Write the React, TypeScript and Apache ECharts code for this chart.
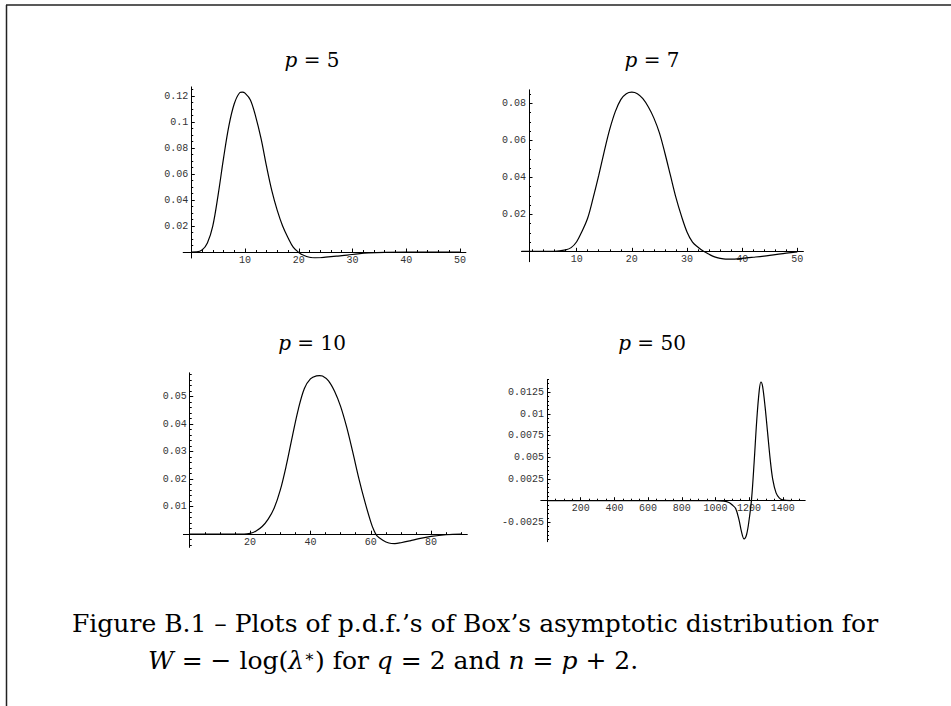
import React, { useEffect, useRef } from "react";
import * as echarts from "echarts";

// ---- Data (x values and pdf values) ----
const p5X = [0, 1, 2, 3, 4, 5, 6, 7, 8, 9, 9.5, 10, 11, 12, 13, 14, 15, 16, 17, 18, 19, 20, 21, 22, 23, 24, 25, 27, 29, 31, 33, 36, 40, 45, 50];
const p5Y = [0, 0.0001, 0.0015, 0.007, 0.02, 0.044, 0.072, 0.097, 0.114, 0.1225, 0.123, 0.1222, 0.117, 0.104, 0.087, 0.066, 0.047, 0.032, 0.02, 0.011, 0.0035, -0.0003, -0.0027, -0.004, -0.0045, -0.0044, -0.004, -0.0032, -0.0024, -0.0014, -0.0007, -0.0002, 0, 0, 0];

const p7X = [0, 6, 8, 9, 10, 11, 12, 13, 14, 15, 16, 17, 18, 19, 20, 21, 22, 23, 24, 25, 26, 27, 28, 29, 30, 31, 32, 33, 34, 35, 36, 37, 38, 40, 42, 45, 48, 50];
const p7Y = [0, 0, 0.0008, 0.002, 0.0052, 0.011, 0.018, 0.029, 0.041, 0.054, 0.066, 0.0755, 0.082, 0.0852, 0.086, 0.0852, 0.0825, 0.078, 0.072, 0.064, 0.053, 0.041, 0.029, 0.019, 0.0105, 0.005, 0.0022, 0, -0.0016, -0.003, -0.0038, -0.0042, -0.0042, -0.0038, -0.0032, -0.0022, -0.001, -0.0003];

const p10X = [0, 18, 20, 22, 24, 26, 28, 30, 32, 34, 36, 38, 40, 42, 43, 44, 46, 48, 50, 52, 54, 56, 58, 60, 61, 62, 64, 66, 68, 70, 73, 76, 80, 85, 90];
const p10Y = [0, 0, 0.0003, 0.0012, 0.0028, 0.0055, 0.0095, 0.016, 0.025, 0.0355, 0.0455, 0.053, 0.0565, 0.0576, 0.0577, 0.0575, 0.0558, 0.052, 0.0465, 0.039, 0.03, 0.0205, 0.012, 0.0045, 0.0015, -0.0005, -0.0022, -0.0032, -0.0034, -0.0031, -0.0024, -0.0016, -0.0008, -0.0002, 0];

const p50X = [0, 1000, 1050, 1080, 1100, 1120, 1140, 1155, 1170, 1185, 1200, 1215, 1230, 1245, 1260, 1270, 1280, 1295, 1310, 1325, 1340, 1360, 1380, 1400, 1450];
const p50Y = [0, 0, -0.00005, -0.0002, -0.0005, -0.0009, -0.0022, -0.0036, -0.0044, -0.0039, -0.0022, 0.0003, 0.0045, 0.0092, 0.0127, 0.0137, 0.0132, 0.0108, 0.0078, 0.0048, 0.0025, 0.0009, 0.0003, 0.0001, 0];

// ---- Tick labels ----
const p5XTicks = [10, 20, 30, 40, 50];
const p5YTicks = [0.02, 0.04, 0.06, 0.08, 0.1, 0.12];
const p7XTicks = [10, 20, 30, 40, 50];
const p7YTicks = [0.02, 0.04, 0.06, 0.08];
const p10XTicks = [20, 40, 60, 80];
const p10YTicks = [0.01, 0.02, 0.03, 0.04, 0.05];
const p50XTicks = [200, 400, 600, 800, 1000, 1200, 1400];
const p50YTicks = [-0.0025, 0.0025, 0.005, 0.0075, 0.01, 0.0125];

const titles = ["5", "7", "10", "50"];

function steps(from: number, to: number, step: number): number[] {
  const out: number[] = [];
  for (let i = 0; ; i++) {
    const v = from + i * step;
    if (v > to + step * 1e-6) break;
    out.push(+v.toFixed(6));
  }
  return out;
}

function zip(xs: number[], ys: number[]) {
  return xs.map((x, i) => [x, ys[i]]);
}

type Panel = {
  title: string;
  data: number[][];
  xRange: [number, number];
  yRange: [number, number];
  yCross: number;
  xLabels: number[];
  xMinor: number[];
  yLabels: number[];
  yMinor: number[];
  box: { left: number; top: number; width: number; height: number };
  titlePos: [number, number];
};

const panels: Panel[] = [
  {
    title: titles[0],
    data: zip(p5X, p5Y),
    xRange: [-1.5, 51.1],
    yRange: [-0.0046, 0.127],
    yCross: 0,
    xLabels: p5XTicks,
    xMinor: steps(0, 50, 2),
    yLabels: p5YTicks,
    yMinor: steps(0, 0.125, 0.005),
    box: { left: 183.2, top: 86.9, width: 282.7, height: 171.1 },
    titlePos: [312, 60],
  },
  {
    title: titles[1],
    data: zip(p7X, p7Y),
    xRange: [0, 51.1],
    yRange: [-0.0056, 0.0873],
    yCross: 1.36,
    xLabels: p7XTicks,
    xMinor: steps(2, 50, 2),
    yLabels: p7YTicks,
    yMinor: steps(0, 0.085, 0.005),
    box: { left: 521.5, top: 89.8, width: 281.9, height: 171.9 },
    titlePos: [652, 60],
  },
  {
    title: titles[2],
    data: zip(p10X, p10Y),
    xRange: [-2.1, 92],
    yRange: [-0.0048, 0.0587],
    yCross: 0,
    xLabels: p10XTicks,
    xMinor: steps(0, 90, 5),
    yLabels: p10YTicks,
    yMinor: steps(-0.004, 0.058, 0.002),
    box: { left: 183.4, top: 372.8, width: 283.9, height: 174.6 },
    titlePos: [312, 343],
  },
  {
    title: titles[3],
    data: zip(p50X, p50Y),
    xRange: [-37, 1533],
    yRange: [-0.00473, 0.014],
    yCross: 0,
    xLabels: p50XTicks,
    xMinor: steps(0, 1500, 50),
    yLabels: p50YTicks,
    yMinor: steps(-0.0045, 0.014, 0.0005),
    box: { left: 540.8, top: 379.4, width: 264.4, height: 162.3 },
    titlePos: [652, 343],
  },
];

const fmt = (v: any) => String(parseFloat(Number(v).toPrecision(6)));
const tickFont = "'Liberation Mono', 'DejaVu Sans Mono', monospace";
const serif = "'DejaVu Serif', 'Liberation Serif', serif";

function buildOption() {
  const grid: any[] = [];
  const xAxis: any[] = [];
  const yAxis: any[] = [];
  const series: any[] = [];
  const graphic: any[] = [];

  panels.forEach((p, i) => {
    grid.push({ ...p.box, containLabel: false });
    const xOff = -p.box.height * (0 - p.yRange[0]) / (p.yRange[1] - p.yRange[0]);
    const yOff = -p.box.width * (p.yCross - p.xRange[0]) / (p.xRange[1] - p.xRange[0]);
    const base = { type: "value", gridIndex: i, splitLine: { show: false } };
    xAxis.push({
      ...base,
      min: p.xRange[0],
      max: p.xRange[1],
      position: "bottom",
      offset: xOff,
      axisLine: { show: true, onZero: false, lineStyle: { color: "#000", width: 1 } },
      axisTick: { show: true, inside: true, length: 3.5, customValues: p.xLabels, lineStyle: { color: "#000", width: 1 } },
      axisLabel: { show: true, customValues: p.xLabels, formatter: fmt, margin: 3, fontFamily: tickFont, fontSize: 10, color: "#333" },
    });
    xAxis.push({
      ...base,
      min: p.xRange[0],
      max: p.xRange[1],
      position: "bottom",
      offset: xOff,
      axisLine: { show: false, onZero: false },
      axisTick: { show: true, inside: true, length: 2, customValues: p.xMinor, lineStyle: { color: "#000", width: 1 } },
      axisLabel: { show: false },
    });
    yAxis.push({
      ...base,
      min: p.yRange[0],
      max: p.yRange[1],
      position: "left",
      offset: yOff,
      axisLine: { show: true, onZero: false, lineStyle: { color: "#000", width: 1 } },
      axisTick: { show: true, inside: true, length: 3.5, customValues: p.yLabels, lineStyle: { color: "#000", width: 1 } },
      axisLabel: { show: true, customValues: p.yLabels, formatter: fmt, margin: 3, fontFamily: tickFont, fontSize: 10, color: "#333" },
    });
    yAxis.push({
      ...base,
      min: p.yRange[0],
      max: p.yRange[1],
      position: "left",
      offset: yOff,
      axisLine: { show: false, onZero: false },
      axisTick: { show: true, inside: true, length: 2, customValues: p.yMinor, lineStyle: { color: "#000", width: 1 } },
      axisLabel: { show: false },
    });
    series.push({
      type: "line",
      xAxisIndex: 2 * i,
      yAxisIndex: 2 * i,
      data: p.data,
      showSymbol: false,
      symbol: "none",
      smooth: 0.35,
      lineStyle: { color: "#000", width: 1.2 },
      silent: true,
    });
    graphic.push({
      type: "text",
      x: p.titlePos[0],
      y: p.titlePos[1],
      style: {
        text: "{i|p} = " + p.title,
        rich: { i: { fontStyle: "italic", fontFamily: serif, fontSize: 20, fill: "#000" } },
        fontFamily: serif,
        fontSize: 20,
        fill: "#000",
        align: "center",
        verticalAlign: "middle",
      },
    });
  });

  // page frame
  graphic.push({ type: "line", shape: { x1: 6, y1: 5, x2: 951, y2: 5 }, style: { stroke: "#222", lineWidth: 1.5 } });
  graphic.push({ type: "line", shape: { x1: 6.5, y1: 5, x2: 6.5, y2: 706 }, style: { stroke: "#222", lineWidth: 1.5 } });

  // caption
  graphic.push({
    type: "text",
    x: 72,
    y: 623.5,
    style: {
      text: "Figure B.1 – Plots of p.d.f.’s of Box’s asymptotic distribution for",
      fontFamily: serif,
      fontSize: 25,
      fill: "#000",
      align: "left",
      verticalAlign: "middle",
    },
  });
  graphic.push({
    type: "text",
    x: 148,
    y: 660.5,
    style: {
      text: "{i|W} = − log({i|λ}{s|∗}) for {i|q} = 2 and {i|n} = {i|p} + 2.",
      rich: {
        i: { fontStyle: "italic", fontFamily: serif, fontSize: 25, fill: "#000" },
        s: { fontFamily: serif, fontSize: 16, fill: "#000", verticalAlign: "top" },
      },
      fontFamily: serif,
      fontSize: 25,
      fill: "#000",
      align: "left",
      verticalAlign: "middle",
    },
  });

  return { animation: false, backgroundColor: "#fff", grid, xAxis, yAxis, series, graphic };
}

export default function App() {
  const ref = useRef<HTMLDivElement>(null);
  useEffect(() => {
    if (!ref.current) return;
    const chart = echarts.init(ref.current, undefined, { renderer: "svg" });
    chart.setOption(buildOption() as any);
    return () => chart.dispose();
  }, []);
  return (
    <div
      ref={ref}
      style={{ position: "fixed", left: 0, top: 0, width: 951, height: 706, background: "#fff" }}
    />
  );
}
